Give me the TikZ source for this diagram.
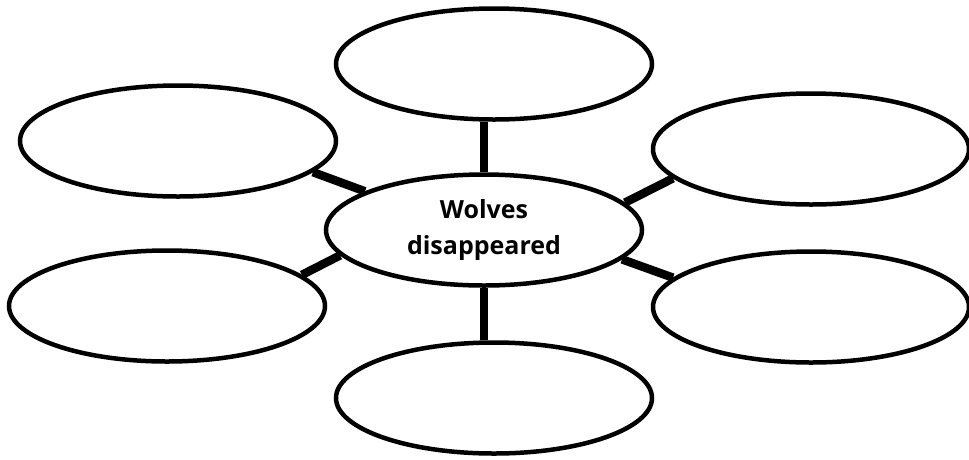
\documentclass[tikz,border=0pt]{standalone}
\usepackage{fontspec}
\setsansfont{Open Sans}
\usetikzlibrary{shapes.geometric}
\tikzset{
  bubble/.style={draw, ellipse, line width=4.5pt, minimum width=316pt,
    minimum height=111pt, inner sep=0pt},
  link/.style={line width=8.5pt}
}
\begin{document}
\begin{tikzpicture}[x=1pt,y=-1pt]
  %page
  \fill[white] (0,0) rectangle (969,459);
  \useasboundingbox (0,0) rectangle (969,459);
%Bubbles
  %middle
  \node[bubble, align=center, font=\sffamily\bfseries\fontsize{25}{36}\selectfont]
    (wolves) at (484,230) {Wolves\\disappeared};
  %outer ones
  \node[bubble] (top) at (494,64) {};
  \node[bubble] (bottom) at (494,398) {};
  \node[bubble] (upleft) at (178,141) {};
  \node[bubble] (lowleft) at (167,306) {};
  \node[bubble] (upright) at (811,149) {};
  \node[bubble] (lowright) at (811,307) {};
%Links
  \draw[link] (wolves.north) -- (wolves.north |- top.south);
  \draw[link] (wolves.south) -- (wolves.south |- bottom.north);
  \draw[link] (wolves.162) -- (upleft.-13);
  \draw[link] (wolves.-170) -- (lowleft.13);
  \draw[link] (wolves.11) -- (upright.-168);
  \draw[link] (wolves.-12) -- (lowright.168);
\end{tikzpicture}
\end{document}
